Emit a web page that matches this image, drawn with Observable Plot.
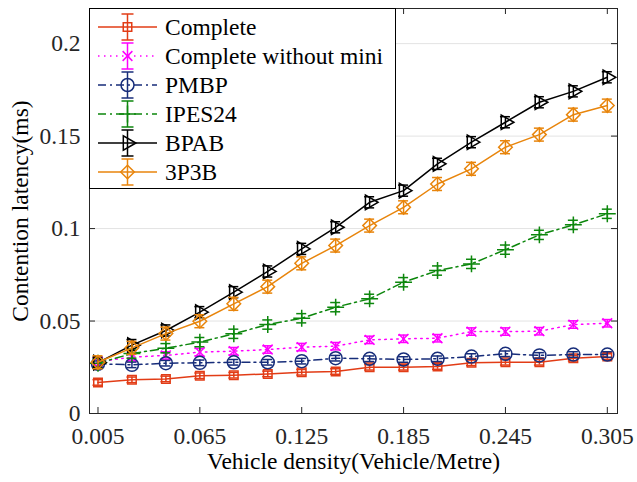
<!DOCTYPE html>
<html><head><meta charset="utf-8">
<script src="https://cdn.jsdelivr.net/npm/d3@7"></script>
<script src="https://cdn.jsdelivr.net/npm/@observablehq/plot@0.6"></script>
<style>
body{margin:0;background:#fff;}
#wrap{position:relative;width:637px;height:482px;}
#wrap svg{position:absolute;left:0;top:0;}
#wrap svg, #wrap svg text{font-family:'Liberation Serif','Times New Roman',Times,serif !important;}
</style></head><body><div id="wrap"></div>
<script>
// ---------- data ----------
const density = [0.005,0.025,0.045,0.065,0.085,0.105,0.125,0.145,0.165,0.185,0.205,0.225,0.245,0.265,0.285,0.305];
const seriesNames = ["Complete","Complete without mini","PMBP","IPES24","BPAB","3P3B"];
const complete       = [0.0168,0.0182,0.0187,0.0204,0.0207,0.0214,0.0223,0.0227,0.0250,0.0250,0.0254,0.0274,0.0277,0.0277,0.0299,0.0308];
const completeNoMini = [0.0280,0.0305,0.0314,0.0332,0.0337,0.0346,0.0359,0.0364,0.0398,0.0404,0.0407,0.0443,0.0443,0.0445,0.0481,0.0488];
const pmbp           = [0.0269,0.0263,0.0272,0.0274,0.0277,0.0277,0.0283,0.0299,0.0296,0.0292,0.0296,0.0308,0.0323,0.0314,0.0319,0.0319];
const ipes24         = [0.0272,0.0324,0.0353,0.0386,0.0431,0.0481,0.0515,0.0575,0.0620,0.0710,0.0773,0.0809,0.0886,0.0966,0.1020,0.1080];
const bpab           = [0.0275,0.0370,0.0449,0.0548,0.0656,0.0768,0.0890,0.1007,0.1142,0.1205,0.1350,0.1467,0.1575,0.1683,0.1742,0.1818];
const p3b3           = [0.0277,0.0355,0.0432,0.0499,0.0593,0.0686,0.0812,0.0908,0.1016,0.1115,0.1241,0.1323,0.1440,0.1508,0.1616,0.1665];
const errComplete       = [0.0015,0.0015,0.0015,0.0015,0.0015,0.0015,0.0015,0.0015,0.0015,0.0015,0.0015,0.0015,0.0015,0.0015,0.0015,0.0015];
const errCompleteNoMini = [0.0020,0.0020,0.0020,0.0020,0.0020,0.0020,0.0020,0.0020,0.0020,0.0020,0.0020,0.0020,0.0020,0.0020,0.0020,0.0020];
const errPmbp           = [0.0015,0.0015,0.0015,0.0015,0.0015,0.0015,0.0015,0.0015,0.0015,0.0015,0.0015,0.0015,0.0015,0.0015,0.0015,0.0015];
const errIpes24         = [0.0025,0.0025,0.0025,0.0025,0.0025,0.0025,0.0025,0.0025,0.0025,0.0025,0.0025,0.0025,0.0025,0.0025,0.0025,0.0025];
const errBpab           = [0.0030,0.0030,0.0030,0.0030,0.0030,0.0030,0.0030,0.0030,0.0030,0.0030,0.0030,0.0030,0.0030,0.0030,0.0030,0.0030];
const errP3b3           = [0.0035,0.0035,0.0035,0.0035,0.0035,0.0035,0.0035,0.0035,0.0035,0.0035,0.0035,0.0035,0.0035,0.0035,0.0035,0.0035];
const xTicks = [0.005,0.065,0.125,0.185,0.245,0.305];
const xTickLabels = ["0.005","0.065","0.125","0.185","0.245","0.305"];
const yTicks = [0,0.05,0.1,0.15,0.2];
const yTickLabels = ["0","0.05","0.1","0.15","0.2"];
const xLabel = "Vehicle density(Vehicle/Metre)";
const yLabel = "Contention latency(ms)";

// ---------- styles ----------
// square-proportioned diamond (MATLAB style): half-diagonal = r
const diamondSym = {draw(ctx, size) { const h = Math.sqrt(size/Math.PI); ctx.moveTo(0,-h); ctx.lineTo(h,0); ctx.lineTo(0,h); ctx.lineTo(-h,0); ctx.closePath(); }};
const styles = [
  {color:"#e23c16", symbol:"square",   r:4.8, dash:null,       rotate:0},
  {color:"#ff00ff", symbol:"times",    r:4.5, dash:"1.5,4.5",  rotate:0},
  {color:"#172d7a", symbol:"circle",   r:6.5, dash:"8,4,2,4",  rotate:0},
  {color:"#0d870d", symbol:"plus",     r:5.5, dash:"8,4,2,4",  rotate:0},
  {color:"#000000", symbol:"triangle", r:5.4, dash:null,       rotate:90},
  {color:"#e8850c", symbol:diamondSym, r:6.8, dash:null,       rotate:0}
];
const values = [complete, completeNoMini, pmbp, ipes24, bpab, p3b3];
const errs = [errComplete, errCompleteNoMini, errPmbp, errIpes24, errBpab, errP3b3];

const W = 637, H = 482;
const mL = 89, mR = 20, mT = 8, mB = 69;
const fw = W - mL - mR, fh = H - mT - mB;
const font = "'Liberation Serif','Times New Roman',Times,serif";
const fs = "23.5px";

const marks = [
  Plot.gridY(yTicks, {stroke:"#e3e3e3", strokeOpacity:1, strokeWidth:1}),
];
seriesNames.forEach((name, i) => {
  const st = styles[i];
  const rows = density.map((x, j) => ({x, y: values[i][j], lo: values[i][j]-errs[i][j], hi: values[i][j]+errs[i][j]}));
  marks.push(Plot.line(rows, {x:"x", y:"y", stroke: st.color, strokeWidth:1.5, strokeDasharray: st.dash || undefined}));
  marks.push(Plot.ruleX(rows, {x:"x", y1:"lo", y2:"hi", stroke: st.color, strokeWidth:1.5}));
  marks.push(Plot.ruleY(rows, {x1:"x", x2:"x", y:"lo", insetLeft:-5, insetRight:-5, stroke: st.color, strokeWidth:1.5}));
  marks.push(Plot.ruleY(rows, {x1:"x", x2:"x", y:"hi", insetLeft:-5, insetRight:-5, stroke: st.color, strokeWidth:1.5}));
  marks.push(Plot.dot(rows, {x:"x", y:"y", symbol: st.symbol, r: st.r, stroke: st.color, fill:"none", strokeWidth:1.5, rotate: st.rotate}));
});
marks.push(
  Plot.frame({stroke:"#262626", strokeWidth:1}),
  Plot.tickX(xTicks, {x: d=>d, insetTop: fh-6, stroke:"#262626"}),
  Plot.tickX(xTicks, {x: d=>d, insetBottom: fh-6, stroke:"#262626"}),
  Plot.tickY(yTicks, {y: d=>d, insetRight: fw-6, stroke:"#262626"}),
  Plot.tickY(yTicks, {y: d=>d, insetLeft: fw-6, stroke:"#262626"}),
  Plot.axisX(xTicks, {tickSize:0, tickPadding:14, tickFormat: d => xTickLabels[xTicks.indexOf(d)], label:null, fill:"#262626"}),
  Plot.axisY(yTicks, {tickSize:0, tickPadding:9, tickFormat: d => yTickLabels[yTicks.indexOf(d)], label:null, fill:"#262626"}),
  Plot.text([xLabel], {text: d=>d, frameAnchor:"bottom", dy:48, fill:"#000", lineAnchor:"middle", textAnchor:"middle"}),
  Plot.text([yLabel], {text: d=>d, frameAnchor:"left", rotate:-90, dx:-69, fill:"#000", textAnchor:"middle", lineAnchor:"middle"})
);

const chart = Plot.plot({
  width: W, height: H,
  marginLeft: mL, marginRight: mR, marginTop: mT, marginBottom: mB,
  x: {domain:[0, 0.311]},
  y: {domain:[0, 0.219]},
  style: {fontFamily: font, fontSize: fs, background:"#fff", overflow:"visible"},
  marks
});
const wrap = document.getElementById("wrap");
wrap.appendChild(chart);

// ---------- legend overlay ----------
const leg = d3.select(wrap).append("svg").attr("width", W).attr("height", H)
  .style("font-family", font).style("font-size", fs);
const lx = 89.5, ly = 8.5, lw = 306, lh = 180;
leg.append("rect").attr("x", lx).attr("y", ly).attr("width", lw).attr("height", lh)
  .attr("fill","#fff").attr("stroke","#000").attr("stroke-width",1);
const symMap = {square:d3.symbolSquare, times:d3.symbolTimes, circle:d3.symbolCircle, plus:d3.symbolPlus, triangle:d3.symbolTriangle};
seriesNames.forEach((name, i) => {
  const st = styles[i];
  const cy = 27 + i*29;
  const g = leg.append("g");
  g.append("line").attr("x1",98).attr("x2",157).attr("y1",cy).attr("y2",cy)
    .attr("stroke",st.color).attr("stroke-width",1.5).attr("stroke-dasharray", st.dash);
  g.append("line").attr("x1",127.5).attr("x2",127.5).attr("y1",cy-13).attr("y2",cy+13)
    .attr("stroke",st.color).attr("stroke-width",1.5);
  [cy-13, cy+13].forEach(yy => g.append("line").attr("x1",121.5).attr("x2",133.5).attr("y1",yy).attr("y2",yy)
    .attr("stroke",st.color).attr("stroke-width",1.5));
  const sym = typeof st.symbol === "string" ? symMap[st.symbol] : st.symbol;
  g.append("path").attr("d", d3.symbol(sym, Math.PI*st.r*st.r)())
    .attr("transform", `translate(127.5,${cy}) rotate(${st.rotate})`)
    .attr("fill","none").attr("stroke",st.color).attr("stroke-width",1.5);
  g.append("text").attr("x",165).attr("y",cy+8).attr("fill","#000").text(name);
});
</script></body></html>
